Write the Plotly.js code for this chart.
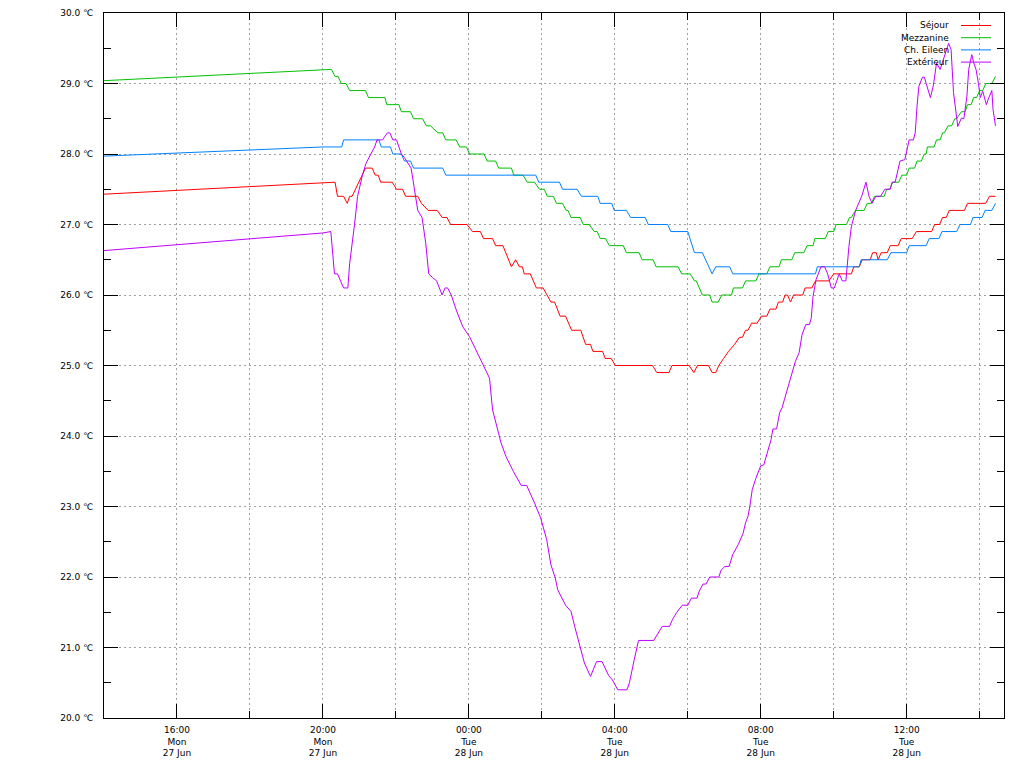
<!DOCTYPE html>
<html>
<head>
<meta charset="utf-8">
<script src="https://cdn.plot.ly/plotly-3.0.1.min.js"></script>
<style>html,body{margin:0;padding:0;background:#fff;}#chart{width:1024px;height:768px;}</style>
</head>
<body>
<div id="chart"></div>
<script>
// ---------- data ----------
const seriesNames = ['Séjour', 'Mezzanine', 'Ch. Eileen', 'Extérieur'];
const seriesColors = ['#ff0000', '#00c000', '#0080ff', '#c000ff'];

const xTickVals = ['27 16:00', '27 20:00', '28 00:00', '28 04:00', '28 08:00', '28 12:00'];
const xTickText = ['16:00<br>Mon<br>27 Jun', '20:00<br>Mon<br>27 Jun', '00:00<br>Tue<br>28 Jun',
                   '04:00<br>Tue<br>28 Jun', '08:00<br>Tue<br>28 Jun', '12:00<br>Tue<br>28 Jun'];

const sejourT = ['27 14:00','27 20:00','27 20:20','27 20:24','27 20:34','27 20:40','27 20:44','27 20:48','27 21:10','27 21:21',
 '27 21:26','27 21:31','27 21:35','27 21:54','27 22:01','27 22:11','27 22:16','27 22:36','27 22:42','27 22:53',
 '27 23:08','27 23:16','27 23:24','27 23:30','27 23:57','28 00:06','28 00:19','28 00:24','28 00:39','28 00:44',
 '28 00:56','28 01:10','28 01:17','28 01:23','28 01:28','28 01:31','28 01:41','28 01:51','28 02:02','28 02:15',
 '28 02:21','28 02:30','28 02:39','28 02:49','28 03:04','28 03:12','28 03:20','28 03:24','28 03:40','28 03:44',
 '28 03:54','28 04:01','28 05:02','28 05:09','28 05:29','28 05:34','28 06:02','28 06:10','28 06:16','28 06:34',
 '28 06:40','28 06:46','28 06:51','28 06:59','28 07:07','28 07:17','28 07:25','28 07:30','28 07:35','28 07:39',
 '28 07:45','28 07:54','28 08:01','28 08:10','28 08:15','28 08:25','28 08:29','28 08:36','28 08:40','28 08:44',
 '28 08:49','28 08:54','28 09:09','28 09:13','28 09:24','28 09:30','28 09:52','28 10:00','28 10:29','28 10:33',
 '28 10:42','28 10:47','28 11:00','28 11:04','28 11:10','28 11:13','28 11:18','28 11:28','28 11:33','28 11:46',
 '28 11:51','28 12:09','28 12:16','28 12:41','28 12:46','28 12:54','28 12:59','28 13:05','28 13:10','28 13:35',
 '28 13:40','28 14:10','28 14:16','28 14:26'];
const sejourV = [27.43,27.6,27.6,27.4,27.4,27.3,27.4,27.4,27.8,27.8,
 27.7,27.7,27.6,27.6,27.5,27.5,27.4,27.4,27.3,27.2,
 27.2,27.1,27.1,27.0,27.0,26.9,26.9,26.8,26.8,26.7,
 26.7,26.4,26.5,26.4,26.4,26.3,26.3,26.1,26.1,25.9,
 25.9,25.7,25.7,25.5,25.5,25.3,25.3,25.2,25.2,25.1,
 25.1,25.0,25.0,24.9,24.9,25.0,25.0,24.9,25.0,25.0,
 24.9,24.9,25.0,25.1,25.2,25.3,25.4,25.4,25.5,25.5,
 25.6,25.6,25.7,25.7,25.8,25.8,25.9,25.9,26.0,26.0,
 25.9,26.0,26.0,26.1,26.1,26.2,26.2,26.3,26.3,26.4,
 26.4,26.5,26.5,26.6,26.6,26.5,26.6,26.6,26.7,26.7,
 26.8,26.8,26.9,26.9,27.0,27.0,27.1,27.1,27.2,27.2,
 27.3,27.3,27.4,27.4];

const mezzT = ['27 14:00','27 20:00','27 20:14','27 20:20','27 20:25','27 20:30','27 20:38','27 20:44','27 21:10','27 21:15',
 '27 21:42','27 21:45','27 22:05','27 22:09','27 22:24','27 22:29','27 22:44','27 22:50','27 22:57','27 23:09',
 '27 23:17','27 23:22','27 23:39','27 23:45','27 23:56','28 00:01','28 00:25','28 00:30','28 00:44','28 00:49',
 '28 01:10','28 01:14','28 01:29','28 01:36','28 01:48','28 01:56','28 02:04','28 02:09','28 02:19','28 02:24',
 '28 02:34','28 02:40','28 02:43','28 02:48','28 03:03','28 03:08','28 03:18','28 03:26','28 03:31','28 03:36',
 '28 03:45','28 03:51','28 04:14','28 04:19','28 04:40','28 04:45','28 05:03','28 05:08','28 05:44','28 05:50',
 '28 06:04','28 06:11','28 06:14','28 06:19','28 06:24','28 06:36','28 06:40','28 06:50','28 06:56','28 07:12',
 '28 07:15','28 07:30','28 07:35','28 07:52','28 07:57','28 08:10','28 08:15','28 08:30','28 08:34','28 08:51',
 '28 08:56','28 09:11','28 09:16','28 09:26','28 09:29','28 09:46','28 09:51','28 10:00','28 10:04','28 10:21',
 '28 10:26','28 10:29','28 10:36','28 10:50','28 10:55','28 11:02','28 11:07','28 11:23','28 11:27','28 11:32',
 '28 11:37','28 11:47','28 11:52','28 12:00','28 12:04','28 12:13','28 12:17','28 12:24','28 12:29','28 12:32',
 '28 12:34','28 12:45','28 12:49','28 12:55','28 12:59','28 13:02','28 13:08','28 13:14','28 13:19','28 13:22',
 '28 13:30','28 13:36','28 13:40','28 13:46','28 13:50','28 13:55','28 14:00','28 14:05','28 14:10','28 14:20',
 '28 14:26'];
const mezzV = [29.04,29.2,29.2,29.1,29.1,29.0,29.0,28.9,28.9,28.8,
 28.8,28.7,28.7,28.6,28.6,28.5,28.5,28.4,28.4,28.3,
 28.3,28.2,28.2,28.1,28.1,28.0,28.0,27.9,27.9,27.8,
 27.8,27.7,27.7,27.6,27.6,27.5,27.5,27.4,27.4,27.3,
 27.3,27.2,27.2,27.1,27.1,27.0,27.0,26.9,26.9,26.8,
 26.8,26.7,26.7,26.6,26.6,26.5,26.5,26.4,26.4,26.3,
 26.3,26.2,26.2,26.1,26.0,26.0,25.9,25.9,26.0,26.0,
 26.1,26.1,26.2,26.2,26.3,26.3,26.4,26.4,26.5,26.5,
 26.6,26.6,26.7,26.7,26.8,26.8,26.9,26.9,27.0,27.0,
 27.1,27.1,27.2,27.2,27.3,27.3,27.4,27.4,27.5,27.5,
 27.6,27.6,27.7,27.7,27.8,27.8,27.9,27.9,28.0,28.0,
 28.1,28.1,28.2,28.2,28.3,28.3,28.4,28.4,28.5,28.5,
 28.6,28.6,28.7,28.7,28.8,28.8,28.9,28.9,29.0,29.0,
 29.1];

const eileenT = ['27 14:00','27 20:00','27 20:31','27 20:34','27 21:32','27 21:36','27 21:51','27 21:55','27 22:09','27 22:14',
 '27 22:24','27 22:29','27 23:17','27 23:22','28 01:50','28 01:55','28 02:29','28 02:34','28 02:58','28 03:05',
 '28 03:32','28 03:36','28 03:55','28 03:59','28 04:19','28 04:26','28 04:50','28 04:55','28 05:27','28 05:32',
 '28 06:00','28 06:11','28 06:24','28 06:40','28 06:46','28 07:09','28 07:14','28 09:30','28 09:33','28 10:42',
 '28 10:45','28 11:28','28 11:34','28 12:00','28 12:04','28 12:32','28 12:37','28 12:53','28 12:58','28 13:22',
 '28 13:28','28 13:45','28 13:49','28 14:04','28 14:09','28 14:20','28 14:26'];
const eileenV = [27.97,28.1,28.1,28.2,28.2,28.1,28.1,28.0,28.0,27.9,
 27.9,27.8,27.8,27.7,27.7,27.6,27.6,27.5,27.5,27.4,
 27.4,27.3,27.3,27.2,27.2,27.1,27.1,27.0,27.0,26.9,
 26.9,26.6,26.6,26.3,26.4,26.4,26.3,26.3,26.4,26.4,
 26.5,26.5,26.6,26.6,26.7,26.7,26.8,26.8,26.9,26.9,
 27.0,27.0,27.1,27.1,27.2,27.2,27.3];

const exterieurT = ['27 14:00','27 20:00','27 20:13','27 20:19','27 20:24','27 20:29','27 20:34','27 20:41','27 20:44','27 20:52',
 '27 20:57','27 21:05','27 21:11','27 21:25','27 21:29','27 21:38','27 21:46','27 21:50','27 21:55','27 22:01',
 '27 22:09','27 22:14','27 22:25','27 22:36','27 22:43','27 22:49','27 22:54','27 23:00','27 23:07','27 23:16',
 '27 23:21','27 23:25','27 23:31','27 23:40','27 23:50','28 00:01','28 00:12','28 00:23','28 00:34','28 00:39',
 '28 00:45','28 00:53','28 01:01','28 01:13','28 01:26','28 01:35','28 01:48','28 01:58','28 02:08','28 02:15',
 '28 02:22','28 02:26','28 02:39','28 02:48','28 02:54','28 03:02','28 03:10','28 03:20','28 03:30','28 03:39',
 '28 03:50','28 03:56','28 04:05','28 04:20','28 04:24','28 04:32','28 04:39','28 05:04','28 05:11','28 05:18',
 '28 05:30','28 05:35','28 05:42','28 05:51','28 06:00','28 06:06','28 06:15','28 06:19','28 06:25','28 06:30',
 '28 06:36','28 06:51','28 06:55','28 07:01','28 07:08','28 07:14','28 07:23','28 07:31','28 07:35','28 07:39',
 '28 07:42','28 07:46','28 07:52','28 08:00','28 08:05','28 08:11','28 08:17','28 08:20','28 08:26','28 08:31',
 '28 08:35','28 08:39','28 08:48','28 08:52','28 08:57','28 09:03','28 09:08','28 09:14','28 09:20','28 09:23',
 '28 09:26','28 09:31','28 09:39','28 09:45','28 09:50','28 09:56','28 10:01','28 10:05','28 10:09','28 10:14',
 '28 10:20','28 10:25','28 10:29','28 10:36','28 10:46','28 10:53','28 10:58','28 11:03','28 11:09','28 11:17',
 '28 11:24','28 11:33','28 11:36','28 11:41','28 11:44','28 11:49','28 11:57','28 12:04','28 12:11','28 12:14',
 '28 12:17','28 12:20','28 12:26','28 12:29','28 12:32','28 12:39','28 12:44','28 12:49','28 12:55','28 12:59',
 '28 13:09','28 13:13','28 13:17','28 13:24','28 13:30','28 13:34','28 13:39','28 13:42','28 13:47','28 13:50',
 '28 13:54','28 13:58','28 14:01','28 14:05','28 14:11','28 14:15','28 14:20','28 14:22','28 14:26'];
const exterieurV = [26.63,26.88,26.9,26.3,26.3,26.2,26.1,26.1,26.45,27.0,
 27.4,27.7,27.87,28.1,28.2,28.2,28.3,28.3,28.2,28.2,
 28.0,27.95,27.8,27.2,27.1,26.74,26.3,26.25,26.2,26.0,
 26.1,26.1,26.0,25.77,25.55,25.41,25.22,25.03,24.82,24.37,
 24.18,23.9,23.71,23.5,23.3,23.3,23.05,22.84,22.53,22.17,
 21.99,21.82,21.6,21.51,21.3,21.02,20.78,20.59,20.8,20.8,
 20.6,20.54,20.4,20.4,20.5,20.83,21.1,21.1,21.2,21.3,
 21.3,21.4,21.5,21.6,21.6,21.7,21.7,21.8,21.9,21.9,
 22.0,22.0,22.1,22.15,22.15,22.32,22.46,22.62,22.77,22.86,
 23.0,23.24,23.4,23.58,23.59,23.76,23.95,24.1,24.1,24.33,
 24.4,24.52,24.8,24.94,25.06,25.18,25.44,25.58,25.58,25.67,
 25.98,26.22,26.4,26.4,26.3,26.1,26.1,26.2,26.3,26.2,
 26.2,26.69,26.97,27.2,27.4,27.6,27.4,27.3,27.4,27.4,
 27.5,27.5,27.6,27.6,27.7,27.9,27.92,28.2,28.2,28.3,
 28.68,28.96,29.09,29.09,29.0,28.8,28.98,29.29,29.2,29.3,
 29.57,29.48,28.87,28.39,28.51,28.5,28.82,29.2,29.41,29.3,
 29.2,29.0,28.8,28.89,28.7,28.8,28.9,28.63,28.4];

// ---------- build ----------
const toDate = s => '2022-06-' + s;
const seriesT = [sejourT, mezzT, eileenT, exterieurT];
const seriesV = [sejourV, mezzV, eileenV, exterieurV];

const traces = seriesNames.map((name, i) => ({
  type: 'scatter', mode: 'lines', name: name,
  x: seriesT[i].map(toDate), y: seriesV[i],
  line: {color: seriesColors[i], width: 1},
  showlegend: false, hoverinfo: 'skip'
}));

// custom gnuplot-style legend (text right, sample line on the right)
const plotL = 104, plotR = 1004, plotT = 13, plotB = 718;
const pw = plotR - plotL, ph = plotB - plotT;
const annotations = [], shapes = [];
seriesNames.forEach((name, i) => {
  const yc = 25.5 + i * 12.2;
  const yp = 1 - (yc - plotT) / ph;
  annotations.push({xref: 'paper', yref: 'paper', x: (951 - plotL) / pw, y: yp,
    xanchor: 'right', yanchor: 'middle', showarrow: false, text: name,
    font: {family: 'DejaVu Sans', size: 9, color: '#000'}});
  shapes.push({type: 'line', xref: 'paper', yref: 'paper',
    x0: (961 - plotL) / pw, x1: (991 - plotL) / pw, y0: yp, y1: yp,
    line: {color: seriesColors[i], width: 1}});
});

const gridStyle = {gridcolor: '#a0a0a0', griddash: '2px,3px', gridwidth: 1};
const layout = {
  width: 1024, height: 768,
  margin: {l: plotL, r: 1024 - plotR, t: plotT, b: 768 - plotB, pad: 0},
  paper_bgcolor: '#ffffff', plot_bgcolor: '#ffffff',
  font: {family: 'DejaVu Sans', size: 9, color: '#000'},
  showlegend: false,
  xaxis: Object.assign({
    type: 'date', range: ['2022-06-27 14:00', '2022-06-28 14:40'],
    tickmode: 'array', tickvals: xTickVals.map(toDate), ticktext: xTickText,
    ticks: 'inside', ticklen: 14, tickwidth: 1, tickcolor: '#000',
    showline: true, linecolor: '#000', linewidth: 1, mirror: 'ticks',
    showgrid: true, zeroline: false, ticklabelstandoff: 3,
    tickfont: {family: 'DejaVu Sans', size: 9, color: '#000'},
    minor: Object.assign({tick0: '2022-06-27 14:00', dtick: 7200000, ticks: 'inside', ticklen: 7,
      tickwidth: 1, tickcolor: '#000', showgrid: true}, gridStyle)
  }, gridStyle),
  yaxis: Object.assign({
    range: [20, 30], tick0: 20, dtick: 1, tickformat: '.1f', ticksuffix: ' ℃',
    ticks: 'inside', ticklen: 14, tickwidth: 1, tickcolor: '#000',
    showline: true, linecolor: '#000', linewidth: 1, mirror: 'ticks',
    showgrid: true, zeroline: false, ticklabelstandoff: 8,
    tickfont: {family: 'DejaVu Sans', size: 9, color: '#000'},
    minor: {tick0: 20, dtick: 0.5, ticks: 'inside', ticklen: 7, tickwidth: 1, tickcolor: '#000', showgrid: false}
  }, gridStyle),
  annotations: annotations,
  shapes: shapes
};

Plotly.newPlot('chart', traces, layout, {staticPlot: true, displayModeBar: false});
</script>
</body>
</html>
